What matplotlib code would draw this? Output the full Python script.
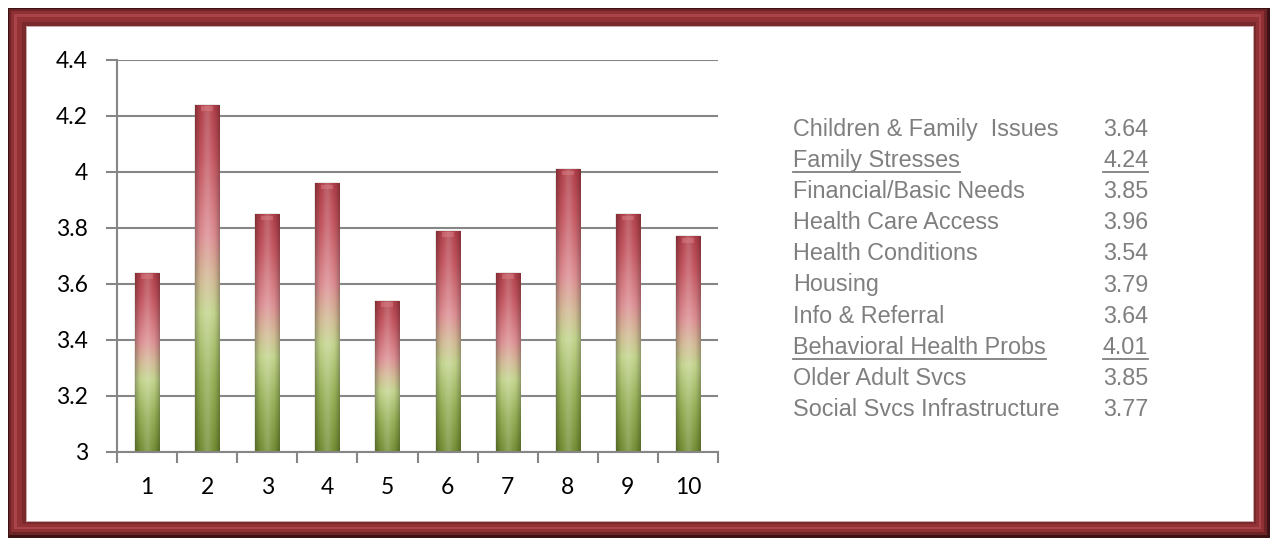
import matplotlib.pyplot as plt
import numpy as np
from matplotlib.patches import Rectangle
from matplotlib.lines import Line2D

# data
categories = [1, 2, 3, 4, 5, 6, 7, 8, 9, 10]
values = [3.64, 4.24, 3.85, 3.96, 3.54, 3.79, 3.64, 4.01, 3.85, 3.77]
names = ["Children & Family  Issues", "Family Stresses", "Financial/Basic Needs",
         "Health Care Access", "Health Conditions", "Housing", "Info & Referral",
         "Behavioral Health Probs", "Older Adult Svcs", "Social Svcs Infrastructure"]
underlined = [False, True, False, False, False, False, False, True, False, False]
yticks = [3, 3.2, 3.4, 3.6, 3.8, 4, 4.2, 4.4]

W, H = 1270, 538
fig = plt.figure(figsize=(W / 100, H / 100), dpi=100)


def px(x, y):
    return x / W, 1 - y / H


def frame_rect(x0, y0, x1, y1, color):
    fx, fy = px(x0, y1)
    r = Rectangle((fx, fy), (x1 - x0) / W, (y1 - y0) / H, transform=fig.transFigure,
                  facecolor=color, edgecolor="none", zorder=0)
    fig.add_artist(r)


# picture frame (bevelled look with nested rectangles)
frame_rect(8, 8, 1270, 538, "#3c1214")
frame_rect(9, 9, 1267, 535, "#6e2326")
frame_rect(11, 11, 1264, 532, "#8f3034")
frame_rect(14, 14, 1261, 529, "#a9444a")
frame_rect(17, 17, 1259, 527, "#923237")
frame_rect(22, 22, 1256, 524, "#7a292c")
frame_rect(26, 26, 1254, 522, "#c9a9aa")
frame_rect(27, 27, 1253, 521, "white")

# axes
ax = fig.add_axes([117 / W, 1 - 452 / H, (718 - 117) / W, 392 / H])
ax.set_facecolor("none")
ax.set_xlim(0.5, 10.5)
ax.set_ylim(3, 4.4)
ax.set_yticks(yticks)
ax.set_yticklabels(["3", "3.2", "3.4", "3.6", "3.8", "4", "4.2", "4.4"])
ax.grid(axis="y", color="#868686", linewidth=1.5, zorder=0)
ax.set_axisbelow(True)
for s in ["top", "right"]:
    ax.spines[s].set_visible(False)
for s in ["left", "bottom"]:
    ax.spines[s].set_color("#868686")
    ax.spines[s].set_linewidth(1.5)
ax.set_xticks(np.arange(0.5, 11, 1))
ax.set_xticklabels([])
ax.set_xticks(categories, minor=True)
ax.set_xticklabels([str(c) for c in categories], minor=True)
ax.tick_params(axis="x", which="major", length=8, width=1.5, color="#868686")
ax.tick_params(axis="x", which="minor", length=0, pad=18, labelsize=16.5)
ax.tick_params(axis="y", length=8, width=1.5, color="#868686", labelsize=16.5, pad=13)
for lab in ax.get_xticklabels(minor=True) + ax.get_yticklabels():
    lab.set_fontfamily("Lato")

# gradient for the bars
stops_t = [0.0, 0.2, 0.4, 0.5, 0.62, 0.85, 1.0]
stops_c = np.array([[0.45, 0.55, 0.20], [0.58, 0.68, 0.33], [0.76, 0.83, 0.55],
                    [0.82, 0.72, 0.58], [0.86, 0.55, 0.57], [0.76, 0.33, 0.37],
                    [0.68, 0.24, 0.28]])
t = np.linspace(0, 1, 200)
col = np.stack([np.interp(t, stops_t, stops_c[:, k]) for k in range(3)], axis=1)
u = np.linspace(0, 1, 40)
shade = 0.74 + 0.36 * np.sin(np.pi * u) ** 0.8
hi = 0.18 * np.sin(np.pi * u) ** 6
img = col[:, None, :] * np.clip(shade, 0, 1)[None, :, None]
img = img + (1 - img) * hi[None, :, None]
img = np.clip(img, 0, 1)

bars = ax.bar(categories, [v - 3 for v in values], bottom=3, width=0.4,
              color="none", edgecolor="#8c8c7a", linewidth=0.3, zorder=2)
for b, c, v in zip(bars, categories, values):
    im = ax.imshow(img, extent=(c - 0.2, c + 0.2, 3, v), origin="lower",
                   aspect="auto", zorder=2, interpolation="bilinear")
    im.set_clip_path(b)
    # small lighter cap at the top of the cylinder
    ax.add_patch(Rectangle((c - 0.1, v - 0.022), 0.2, 0.016, facecolor="#e58a92",
                           edgecolor="none", alpha=0.4, zorder=3))
ax.set_xlim(0.5, 10.5)
ax.set_ylim(3, 4.4)

# legend table on the right
gray = "#7f7f7f"
under = []
for i, (n, v, u_) in enumerate(zip(names, values, underlined)):
    yy = 136 + i * 31.1
    t1 = fig.text(793 / W, 1 - yy / H, n, fontsize=16.8, color=gray,
                  family="Liberation Sans", va="baseline", ha="left")
    t2 = fig.text(1148 / W, 1 - yy / H, "%.2f" % v, fontsize=16.8, color=gray,
                  family="Liberation Sans", va="baseline", ha="right")
    if u_:
        under.append((t1, yy))
        under.append((t2, yy))

fig.canvas.draw()
r = fig.canvas.get_renderer()
for tx, yy in under:
    bb = tx.get_window_extent(r)
    yline = 1 - (yy + 5) / H
    fig.add_artist(Line2D([bb.x0 / W, bb.x1 / W], [yline, yline],
                          transform=fig.transFigure, color=gray, linewidth=1.3))

fig.savefig("out.png", dpi=100)
